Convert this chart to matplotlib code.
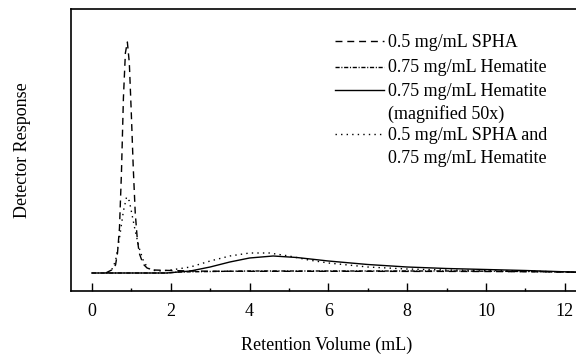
import matplotlib
matplotlib.use("Agg")
import matplotlib.pyplot as plt
from matplotlib.lines import Line2D
from matplotlib.ticker import MultipleLocator

plt.rcParams['font.family'] = ['Liberation Serif', 'DejaVu Serif']

# SPHA alone (dashed)
spha_x = [0.35, 0.5, 0.6, 0.65, 0.7, 0.75, 0.8, 0.85, 0.9, 0.95, 1.0, 1.05, 1.1, 1.15, 1.2, 1.3, 1.4, 1.55,
          2.0, 2.5, 3, 4, 5, 6, 7, 8, 9, 10, 11, 12, 12.4]
spha_y = [0, 3, 8, 20, 45, 100, 175, 220, 231, 210, 160, 105, 60, 35, 20, 9, 5, 3,
          2.5, 2, 1.8, 1.7, 1.7, 1.7, 1.7, 1.6, 1.6, 1.5, 1.3, 1.0, 0.8]

# Hematite alone (dash-dot)
hem_x = [0, 1.9, 2.2, 3, 4, 5, 6, 7, 8, 9, 10, 11, 12, 12.4]
hem_y = [0, 0, 1, 1.5, 2, 2, 2, 2, 2, 2, 1.8, 1.5, 1.0, 0.7]

# Hematite magnified 50x (solid)
mag_x = [0, 1.9, 2.5, 3.0, 3.5, 4.0, 4.6, 5.2, 6, 7, 8, 9, 10, 11, 12, 12.4]
mag_y = [0, 0, 2, 6, 11, 15, 17, 15.5, 12, 8.5, 6, 4.5, 3.5, 2.5, 1.2, 0.8]

# SPHA + Hematite (dotted)
mix_x = [0.4, 0.5, 0.6, 0.7, 0.8, 0.88, 0.95, 1.0, 1.1, 1.2, 1.3, 1.4, 1.5, 1.7, 2.0, 2.5, 3.0, 3.5, 4.0,
         4.5, 5.0, 5.5, 6, 7, 8, 9, 10, 11, 12, 12.4]
mix_y = [0, 3, 12, 35, 62, 76, 72, 62, 42, 25, 13, 6, 3, 2, 3, 6, 12, 17, 20,
         20, 17, 13, 10, 6, 4, 3, 2.5, 2, 1, 0.5]

labels = ["0.5 mg/mL SPHA", "0.75 mg/mL Hematite", "0.75 mg/mL Hematite\n(magnified 50x)",
          "0.5 mg/mL SPHA and\n0.75 mg/mL Hematite"]

fig = plt.figure(figsize=(5.76, 3.56), dpi=100)
ax = fig.add_axes([71/576, (356-291)/356, 1 - 71/576 + 0.01, (291-9)/356])

lw = 1.0
styles = [dict(linestyle=(0, (5, 3.5))),
          dict(linestyle=(0, (3, 1.2, 0.8, 1.2))),
          dict(linestyle='-'),
          dict(linestyle=(0, (1, 3)))]
series = [(spha_x, spha_y), (hem_x, hem_y), (mag_x, mag_y), (mix_x, mix_y)]
for (xs, ys), st in zip(series, styles):
    ax.plot(xs, ys, color='black', lw=lw, **st)

ax.set_xlim(-0.53, 12.43)
ax.set_ylim(-18, 264)
ax.xaxis.set_major_locator(MultipleLocator(2))
ax.xaxis.set_minor_locator(MultipleLocator(1))
ax.set_yticks([])
ax.tick_params(axis='x', which='major', direction='in', length=5.8, width=1.0, pad=9, labelsize=13)
ax.tick_params(axis='x', which='minor', direction='in', length=2.5, width=1.0)
for s in ['left', 'top', 'bottom']:
    ax.spines[s].set_linewidth(1.2)
ax.spines['right'].set_visible(False)

ax.set_xlabel("Retention Volume (mL)", fontsize=13, labelpad=12)
ax.set_ylabel("Detector Response", fontsize=13, labelpad=29)

# Manual legend (figure pixel coordinates -> axes fraction)
def to_ax(px, py):
    x0, y0, w, h = ax.get_position().bounds
    fx = px / 576
    fy = (356 - py) / 356
    return (fx - x0) / w, (fy - y0) / h

rows_y = [41, 66.5, 90, 134]
line_step = 23
for st, ry, lab in zip(styles, rows_y, labels):
    xa, ya = to_ax(335, ry)
    xb, _ = to_ax(384, ry)
    ax.add_line(Line2D([xa, xb], [ya, ya], transform=ax.transAxes, color='black', lw=lw, **st))
    for k, part in enumerate(lab.split("\n")):
        tx, ty = to_ax(388, ry + 6 + k * line_step)
        ax.text(tx, ty, part, transform=ax.transAxes, fontsize=13, ha='left', va='baseline')

fig.savefig("out.png", dpi=100)
